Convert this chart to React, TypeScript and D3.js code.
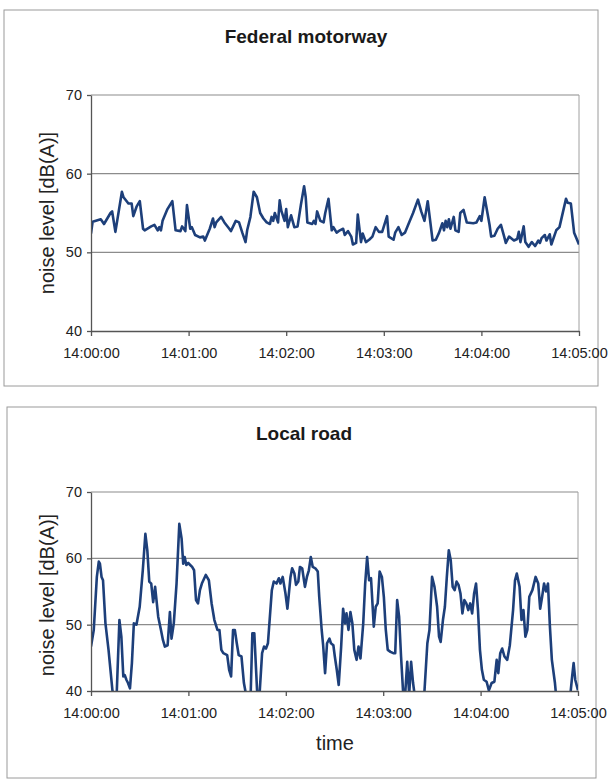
import React, { useEffect, useRef } from "react";
import * as d3 from "d3";

// tick labels for both charts
const xTickSeconds = [0, 60, 120, 180, 240, 300];
const xTickLabels = ["14:00:00", "14:01:00", "14:02:00", "14:03:00", "14:04:00", "14:05:00"];
const yTicks = [40, 50, 60, 70];

// Federal motorway, seconds after 14:00:00 and level in dB(A)
const motorwaySeconds = [
  0, 1, 6, 8, 12, 13, 15, 19, 20, 23, 25, 26, 28, 30, 32, 33, 37, 39, 41, 42, 43, 44, 47, 50,
  52, 55, 56, 58, 59, 61, 62, 64, 67, 69, 70, 73, 75, 76, 77, 80, 82, 85, 86, 89, 91, 93, 95,
  96, 98, 100, 102, 104, 106, 108, 110, 111, 112, 113, 115, 116, 117, 119, 120, 121, 123, 125,
  127, 129, 131, 132, 133, 136, 137, 138, 139, 141, 143, 144, 146, 148, 149, 151, 153, 155, 156,
  158, 160, 161, 163, 164, 166, 167, 169, 171, 173, 175, 177, 179, 182, 183, 186, 187, 189, 191,
  193, 195, 198, 201, 203, 205, 207, 210, 212, 214, 216, 217, 218, 219, 220, 221, 223, 224, 226,
  227, 229, 231, 235, 237, 239, 240, 242, 245, 246, 248, 250, 252, 254, 255, 257, 260, 262, 263,
  264, 266, 267, 269, 271, 273, 275, 276, 277, 279, 280, 282, 283, 286, 288, 292, 293, 295, 297, 300,
];
const motorwayLevels = [
  52.4, 53.9, 54.2, 53.6, 55, 55.2, 52.6, 57.7, 57, 56.2, 56.2, 54.6, 55.8, 56.5, 53, 52.8, 53.3,
  53.5, 52.8, 53.2, 52.8, 54, 55.5, 56.5, 52.8, 52.7, 53.3, 52.7, 56, 53, 53.2, 52.2, 51.9, 52,
  51.5, 53, 54.3, 53.2, 53.8, 54.5, 53.8, 53, 52.7, 54, 53.8, 52.5, 51.3, 52.8, 54.5, 57.7, 57, 55,
  54.3, 53.8, 53.6, 54.5, 54, 55, 53.8, 56.6, 55.3, 54, 55.5, 53.2, 54.7, 53.2, 53.3, 56, 58.4, 57,
  53.8, 53.6, 54, 53.6, 55.2, 54, 53.8, 55, 56.8, 52.8, 53.2, 52.5, 52.8, 53, 52.2, 52.7, 52, 51,
  51.2, 54.8, 51.3, 52.4, 51.3, 51.6, 52, 53.2, 52.6, 52.6, 54.6, 52, 51.6, 52.5, 53.2, 52.2, 52.5,
  53.5, 55, 56.7, 55.2, 54, 56.5, 51.5, 51.6, 52.5, 53.7, 52.8, 54, 53.2, 54.2, 53, 54.5, 52.8,
  52.6, 55, 55.4, 53.8, 53.7, 53.8, 54.6, 54, 57, 53.5, 52, 52.1, 53, 53.5, 52, 51.2, 52, 51.5,
  51.7, 52.6, 51.3, 53.3, 51.3, 50.7, 51.3, 50.8, 51.5, 51.2, 51.8, 52.2, 51.5, 52.3, 51, 52.8,
  53.2, 56.8, 56.3, 56.2, 52.5, 51,
];

// Local road
const localSeconds = [
  0, 1.7, 3.6, 4.8, 5.5, 6.5, 7.4, 8.9, 10.8, 13.2, 15.6, 17.5, 18.7, 19.9, 20.8, 21.8, 22.8, 24,
  25.2, 26.4, 28, 30, 31.9, 33.5, 34.7, 35.9, 37.1, 38.3, 39.5, 41.4, 43.1, 44.3, 45.5, 47.2, 48.6,
  49.6, 51, 52.7, 54.4, 55.8, 56.8, 57.7, 58.7, 59.9, 61.1, 62.3, 63.5, 64.7, 65.9, 67.1, 68.3,
  70.7, 72.6, 74.3, 76, 77.9, 79.1, 80.3, 81.5, 83.9, 85.1, 86.3, 87.5, 88.6, 89.8, 91, 92.7, 94.2,
  95.4, 98.2, 99.4, 100.6, 102.3, 103.7, 105.4, 106.6, 107.8, 109, 111.4, 112.6, 114.3, 115.7,
  116.7, 118.1, 119.8, 121, 122.9, 123.9, 125.3, 126.3, 127.7, 128.7, 130.1, 131.8, 133, 134.2,
  135.4, 136.6, 138.2, 139.7, 140.6, 142.1, 143, 144.2, 145.4, 146.9, 147.8, 149.3, 150.2, 151.4,
  152.6, 154.1, 155.3, 156.5, 157.4, 158.6, 159.8, 161, 162.2, 163.6, 164.8, 166, 167.7, 168.9,
  170.1, 171.3, 172.5, 174.2, 175.4, 176.6, 177.8, 179.2, 180.4, 181.6, 182.8, 184.5, 186.2,
  187.4, 188.6, 189.8, 191, 192.2, 193.4, 194.8, 196, 197.2, 198.4, 199.6, 202.5, 205.3, 207.2,
  208.5, 210.1, 211.6, 213.2, 214.4, 215.4, 216.8, 218, 219.2, 220.4, 221.6, 222.8, 224, 225.2,
  226.4, 227.6, 228.8, 230, 231.2, 232.4, 233.6, 234.8, 236, 237.2, 238.4, 239.6, 240.8, 242,
  243.7, 245.1, 246.8, 248.5, 249.9, 250.9, 252.1, 253.3, 254.7, 256.4, 258, 260, 261.2, 262.3,
  264, 265.2, 266.4, 267.6, 268.8, 270, 271.9, 273.9, 275.5, 276.7, 277.9, 279.1, 280.3, 281.5,
  282.7, 283.9, 285.8, 287, 294.7, 296.4, 297.3, 298.3, 300,
];
const localLevels = [
  46.7, 49.2, 57.2, 59.5, 59.2, 57.2, 56.7, 50.2, 46.2, 40.1, 38, 50.7, 48.2, 42.2, 42.4, 41.7,
  41.2, 40.4, 44.2, 50.2, 50, 52.7, 58.2, 63.7, 61.2, 56.5, 56.2, 53.4, 55.7, 51.2, 49.2, 47.7,
  46.7, 46.9, 51.9, 47.9, 50.2, 56.2, 65.2, 63, 59.2, 60.2, 59, 59.3, 59, 58.7, 58.2, 53.7, 53.2,
  55.2, 56.2, 57.5, 56.7, 53.2, 50.7, 49.2, 49.2, 46.2, 45.7, 45.4, 43.2, 42.2, 49.2, 49.2, 47.2,
  45.4, 45.2, 41.2, 39.6, 38, 48.7, 48.7, 40.1, 39, 45.7, 46.7, 46.4, 47.2, 55.2, 56.5, 56.2, 57,
  56.2, 57.2, 54.7, 52.4, 57.2, 58.5, 57.7, 56, 56.5, 58.7, 58.5, 55.7, 57.2, 58.2, 60.2, 58.7,
  58.5, 58, 54.2, 49.2, 46.9, 42.7, 47.2, 47.9, 47.2, 46.9, 45.2, 43.2, 40.9, 46.7, 52.4, 50.2,
  51.7, 49.2, 51.9, 50.2, 46.2, 44.7, 46.7, 44.9, 50.2, 56.2, 60.2, 56.7, 57, 49.7, 52.7, 53.2,
  58, 57.2, 54.2, 49.2, 46.2, 45.9, 45.7, 45.7, 53.7, 51.2, 45.2, 40.1, 39, 44.4, 39.5, 44.4,
  41.2, 39, 38, 39.5, 47.2, 49.2, 57.2, 55.7, 52.7, 48.2, 47.4, 50.7, 52.7, 57.2, 61.2, 59.7,
  55.7, 55.2, 56.5, 56, 54.7, 51.7, 53.7, 53.2, 52.2, 53.2, 51.7, 54.7, 56.2, 52.2, 46.2, 43.2,
  41.7, 41.4, 40.1, 41.2, 41.4, 44.7, 42.7, 45.7, 46.4, 45.2, 44.7, 46.9, 52.2, 56.7, 57.7, 55.7,
  50.7, 52.2, 48.2, 49.2, 54.2, 55.2, 57.2, 56.2, 52.4, 54.2, 56.2, 55, 56.2, 49.7, 44.7, 41.2,
  38, 38, 42.2, 44.2, 41.7, 40.1,
];

const font = "'Liberation Sans', Arial, sans-serif";
const lineColor = "#1d3f7a";

const drawPanel = (svg, cfg) => {
  const g = svg.append("g");

  // outer frame
  g.append("rect")
    .attr("x", cfg.box[0])
    .attr("y", cfg.box[1])
    .attr("width", cfg.box[2])
    .attr("height", cfg.box[3])
    .attr("fill", "white")
    .attr("stroke", "#9a9a9a");

  g.append("text")
    .attr("x", cfg.titleX)
    .attr("y", cfg.titleY)
    .attr("text-anchor", "middle")
    .style("font-family", font)
    .style("font-weight", "bold")
    .style("font-size", "19px")
    .attr("fill", "#1a1a1a")
    .text(cfg.title);

  const x = d3.scaleLinear().domain([0, 300]).range([cfg.left, cfg.right]);
  const y = d3.scaleLinear().domain([40, 70]).range([cfg.bottom, cfg.top]);

  // gridlines
  g.selectAll(".grid")
    .data(yTicks.slice(1))
    .join("line")
    .attr("x1", cfg.left)
    .attr("x2", cfg.right)
    .attr("y1", (d) => y(d))
    .attr("y2", (d) => y(d))
    .attr("stroke", "#8c8c8c")
    .attr("stroke-width", 1.2);

  // right edge of the plot area
  g.append("line")
    .attr("x1", cfg.right)
    .attr("x2", cfg.right)
    .attr("y1", cfg.top)
    .attr("y2", cfg.bottom)
    .attr("stroke", "#a0a0a0");

  // clip the line at the axis
  g.append("clipPath")
    .attr("id", cfg.id)
    .append("rect")
    .attr("x", cfg.left)
    .attr("y", cfg.top)
    .attr("width", cfg.right - cfg.left)
    .attr("height", cfg.bottom - cfg.top);

  const points = cfg.seconds.map((s, i) => [s, cfg.levels[i]]);
  const line = d3
    .line()
    .x((d) => x(d[0]))
    .y((d) => y(d[1]));

  g.append("path")
    .attr("clip-path", `url(#${cfg.id})`)
    .attr("d", line(points))
    .attr("fill", "none")
    .attr("stroke", lineColor)
    .attr("stroke-width", 2.6)
    .attr("stroke-linejoin", "round");

  const xAxis = d3
    .axisBottom(x)
    .tickValues(xTickSeconds)
    .tickFormat((d, i) => xTickLabels[i])
    .tickSize(5)
    .tickSizeOuter(0)
    .tickPadding(12);

  const yAxis = d3
    .axisLeft(y)
    .tickValues(yTicks)
    .tickSize(4)
    .tickSizeOuter(0)
    .tickPadding(5);

  [
    g.append("g").attr("transform", `translate(0, ${cfg.bottom})`).call(xAxis),
    g.append("g").attr("transform", `translate(${cfg.left}, 0)`).call(yAxis),
  ].forEach((a) => {
    a.attr("font-family", font).attr("font-size", 14.5);
    a.selectAll("path, line").attr("stroke", "#555").attr("stroke-width", 1.3);
    a.selectAll("text").attr("fill", "#222");
  });

  g.append("text")
    .attr("transform", `translate(${cfg.yLabelX}, ${cfg.yLabelY}) rotate(-90)`)
    .attr("dy", "0.35em")
    .attr("text-anchor", "middle")
    .style("font-family", font)
    .style("font-size", "20px")
    .attr("fill", "#222")
    .text("noise level [dB(A)]");

  if (cfg.timeY) {
    g.append("text")
      .attr("x", cfg.timeX)
      .attr("y", cfg.timeY)
      .attr("text-anchor", "middle")
      .style("font-family", font)
      .style("font-size", "20px")
      .attr("fill", "#222")
      .text("time");
  }
};

const App = () => {
  const svgRef = useRef(null);

  useEffect(() => {
    const svg = d3.select(svgRef.current);
    svg.selectAll("*").remove();
    svg.append("rect").attr("width", 609).attr("height", 780).attr("fill", "white");

    drawPanel(svg, {
      id: "clipTop",
      box: [4, 10, 594, 376],
      title: "Federal motorway",
      titleX: 306,
      titleY: 43,
      left: 91,
      right: 579,
      top: 95,
      bottom: 331,
      yLabelX: 47,
      yLabelY: 213,
      seconds: motorwaySeconds,
      levels: motorwayLevels,
    });

    drawPanel(svg, {
      id: "clipBottom",
      box: [7, 407, 589, 371],
      title: "Local road",
      titleX: 304,
      titleY: 440,
      left: 91,
      right: 578,
      top: 492,
      bottom: 691,
      yLabelX: 47,
      yLabelY: 595,
      timeX: 335,
      timeY: 750,
      seconds: localSeconds,
      levels: localLevels,
    });
  }, []);

  return (
    <svg
      ref={svgRef}
      width={609}
      height={780}
      style={{ position: "absolute", left: 0, top: 0 }}
    ></svg>
  );
};

export default App;
